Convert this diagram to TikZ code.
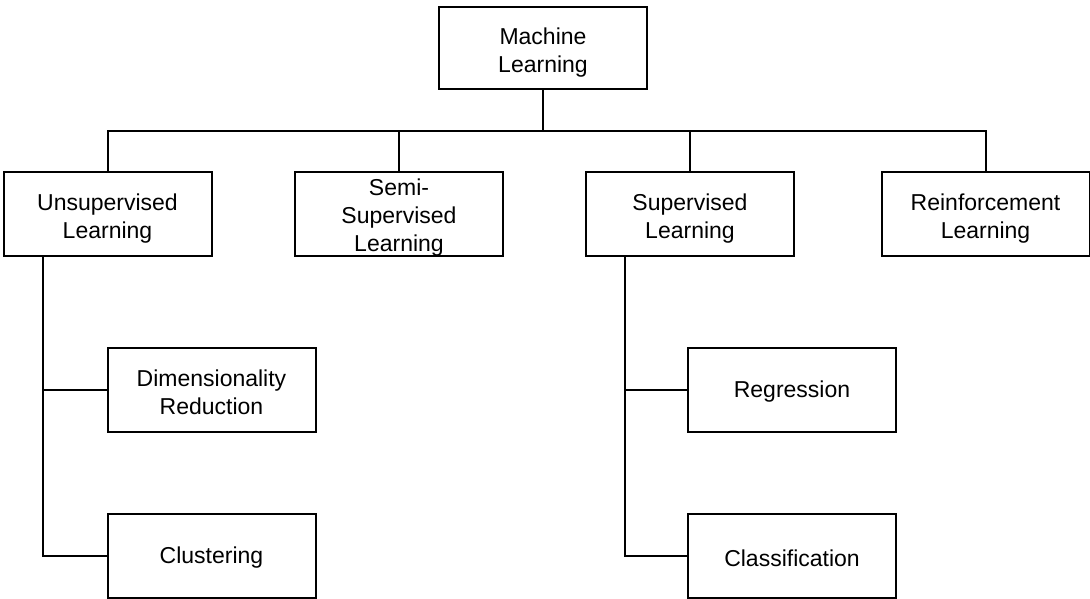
\documentclass[tikz,border=0pt]{standalone}
\usepackage{fontspec}
\setmainfont{Liberation Sans}
\begin{document}
\begin{tikzpicture}[x=1pt,y=-1pt,
  box/.style={draw=black,line width=2pt,fill=white,minimum width=208pt,minimum height=84pt,inner sep=0pt},
  lbl/.style={align=center,inner sep=0pt,font=\fontsize{23}{28}\selectfont},
  conn/.style={draw=black,line width=2pt}]
\useasboundingbox (0,0) rectangle (1090,599);
\node[box,minimum height=82pt] (ml) at (543,48) {};
\node[box] (unsup) at (107.5,214) {};
\node[box] (semi) at (399,214) {};
\node[box] (sup) at (690,214) {};
\node[box] (rein) at (985.5,214) {};
\node[box] (dim) at (211.5,390) {};
\node[box] (clus) at (211.5,556) {};
\node[box] (reg) at (792,390) {};
\node[box] (cls) at (792,556) {};
\node[lbl] (mlt) at ([yshift=-5pt]ml.center) {Machine\\Learning};
\node[lbl] (unsupt) at ([yshift=-5pt]unsup.center) {Unsupervised\\Learning};
\node[lbl] (semit) at ([yshift=-4pt]semi.center) {Semi-\\Supervised\\Learning};
\node[lbl] (supt) at ([yshift=-5pt]sup.center) {Supervised\\Learning};
\node[lbl] (reint) at ([yshift=-5pt]rein.center) {Reinforcement\\Learning};
\node[lbl] (dimt) at ([yshift=-2pt]dim.center) {Dimensionality\\Reduction};
\node[lbl] (clust) at ([yshift=-2pt]clus.center) {Clustering};
\node[lbl] (regt) at ([yshift=-2pt]reg.center) {Regression};
\node[lbl] (clst) at ([yshift=-2pt]cls.center) {Classification};
\coordinate (bus) at (0,131);
\coordinate (ltrunk) at (43,0);
\coordinate (rtrunk) at (625,0);
\draw[conn] (ml.south) -- (ml.south |- bus);
\draw[conn] (unsup.north) -- (unsup.north |- bus) -- (rein.north |- bus) -- (rein.north);
\draw[conn] (semi.north) -- (semi.north |- bus);
\draw[conn] (sup.north) -- (sup.north |- bus);
\draw[conn] (unsup.south -| ltrunk) -- (clus.west -| ltrunk) -- (clus.west);
\draw[conn] (dim.west -| ltrunk) -- (dim.west);
\draw[conn] (sup.south -| rtrunk) -- (cls.west -| rtrunk) -- (cls.west);
\draw[conn] (reg.west -| rtrunk) -- (reg.west);
\end{tikzpicture}
\end{document}
